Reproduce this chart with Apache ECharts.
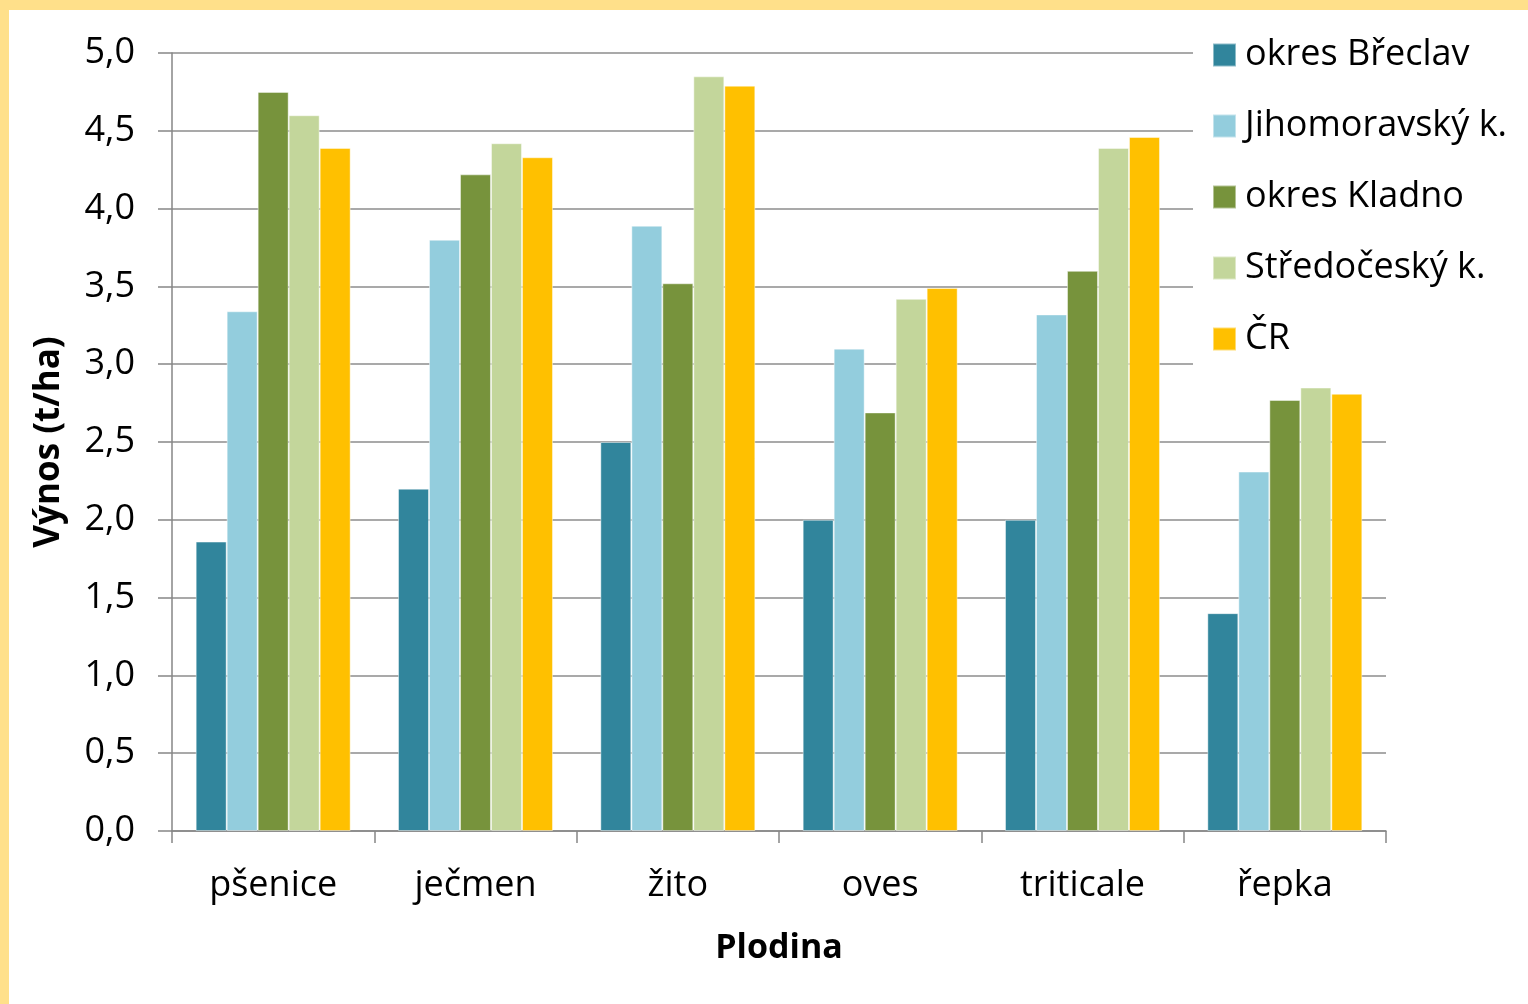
<!DOCTYPE html>
<html>
<head>
<meta charset="utf-8">
<script src="https://cdn.jsdelivr.net/npm/echarts@6/dist/echarts.min.js"></script>
<style>
  html, body { margin: 0; padding: 0; background: #ffffff; }
  #chart { width: 1528px; height: 1004px; }
</style>
</head>
<body>
<div id="chart"></div>
<script>
// Crops and regions
const crops = ['pšenice', 'ječmen', 'žito', 'oves', 'triticale', 'řepka'];
const seriesNames = ['okres Břeclav', 'Jihomoravský k.', 'okres Kladno', 'Středočeský k.', 'ČR'];

// Yield in t/ha per crop
const breclav      = [1.86, 2.20, 2.50, 2.00, 2.00, 1.40];
const jihomoravsky = [3.34, 3.80, 3.89, 3.10, 3.32, 2.31];
const kladno       = [4.75, 4.22, 3.52, 2.69, 3.60, 2.77];
const stredocesky  = [4.60, 4.42, 4.85, 3.42, 4.39, 2.85];
const cr           = [4.39, 4.33, 4.79, 3.49, 4.46, 2.81];

const seriesData = [breclav, jihomoravsky, kladno, stredocesky, cr];
const colors = ['#31859C', '#93CDDD', '#77933C', '#C3D69B', '#FFC000'];

const FONT = '"Open Sans", "Noto Sans", sans-serif';

const chart = echarts.init(document.getElementById('chart'), null, { renderer: 'canvas' });

chart.setOption({
  animation: false,
  backgroundColor: '#ffffff',
  textStyle: { fontFamily: FONT, color: '#000000' },
  graphic: [
    { type: 'rect', left: 0, top: 0, shape: { width: 1528, height: 10 }, style: { fill: '#FFE08A' }, z: 100 },
    { type: 'rect', left: 0, top: 0, shape: { width: 9, height: 1004 }, style: { fill: '#FFE08A' }, z: 100 }
  ],
  grid: { left: 172, right: 142, top: 53, bottom: 173, containLabel: false },
  legend: {
    orient: 'vertical',
    left: 1193,
    top: 22,
    padding: [13, 6, 20, 19],
    backgroundColor: '#ffffff',
    itemWidth: 23,
    itemHeight: 23,
    itemGap: 31,
    icon: 'rect',
    z: 10,
    textStyle: { fontFamily: FONT, fontSize: 36, color: '#000000', lineHeight: 40, padding: [0, 0, 0, 4] },
    data: seriesNames
  },
  xAxis: {
    type: 'category',
    data: crops,
    name: 'Plodina',
    nameLocation: 'middle',
    nameGap: 100,
    nameTextStyle: { fontFamily: FONT, fontSize: 34, fontWeight: 'bold', color: '#000000' },
    axisLine: { lineStyle: { color: '#868686', width: 1.5 } },
    axisTick: { show: true, length: 12, lineStyle: { color: '#868686', width: 1.5 } },
    axisLabel: { fontFamily: FONT, fontSize: 36, color: '#000000', margin: 37 },
    splitLine: { show: false }
  },
  yAxis: {
    type: 'value',
    min: 0,
    max: 5,
    interval: 0.5,
    name: 'Výnos (t/ha)',
    nameLocation: 'middle',
    nameGap: 105,
    nameRotate: 90,
    nameTextStyle: { fontFamily: FONT, fontSize: 35, fontWeight: 'bold', color: '#000000' },
    axisLine: { show: true, lineStyle: { color: '#868686', width: 1.5 } },
    axisTick: { show: true, length: 14, lineStyle: { color: '#868686', width: 1.5 } },
    axisLabel: {
      fontFamily: FONT, fontSize: 36, color: '#000000', margin: 37,
      formatter: v => v.toFixed(1).replace('.', ',')
    },
    splitLine: { show: true, lineStyle: { color: '#8c8c8c', width: 1.5 } }
  },
  series: seriesNames.map((name, i) => ({
    name: name,
    type: 'bar',
    data: seriesData[i],
    barGap: '0%',
    barCategoryGap: '23.4%',
    itemStyle: { color: colors[i], borderColor: 'rgba(255,255,255,0.45)', borderWidth: 1 }
  }))
});
</script>
</body>
</html>
